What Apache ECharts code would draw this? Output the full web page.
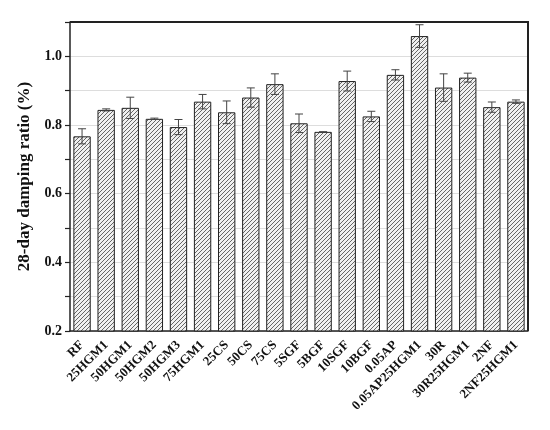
<!DOCTYPE html>
<html>
<head>
<meta charset="utf-8">
<script src="https://cdn.jsdelivr.net/npm/echarts@6/dist/echarts.min.js"></script>
<style>html,body{margin:0;padding:0;background:#fff}#c{width:550px;height:430px}</style>
</head>
<body>
<div id="c"></div>
<script>
const categories = ['RF','25HGM1','50HGM1','50HGM2','50HGM3','75HGM1','25CS','50CS','75CS','5SGF','5BGF','10SGF','10BGF','0.05AP','0.05AP25HGM1','30R','30R25HGM1','2NF','2NF25HGM1'];
const values = [0.767,0.844,0.850,0.818,0.794,0.868,0.837,0.880,0.919,0.805,0.780,0.928,0.825,0.946,1.059,0.909,0.938,0.852,0.868];
const errors = [0.022,0.003,0.031,0.002,0.022,0.021,0.033,0.028,0.030,0.027,0,0.029,0.015,0.015,0.033,0.040,0.013,0.015,0.005];
const yTicks = [0.2,0.4,0.6,0.8,1.0];

const FONT = '"Liberation Serif","Times New Roman",serif';

// hatch pattern
const pc = document.createElement('canvas');
pc.width = 4; pc.height = 4;
const g = pc.getContext('2d');
g.fillStyle = '#f0f0f0';
g.fillRect(0,0,4,4);
g.strokeStyle = '#666';
g.lineWidth = 1;
g.beginPath();
g.moveTo(-1,5); g.lineTo(5,-1);
g.moveTo(-1,1); g.lineTo(1,-1);
g.moveTo(3,5); g.lineTo(5,3);
g.stroke();

const GL = 70, GR = 22, GT = 22, GB = 99, W = 550, H = 430;

const chart = echarts.init(document.getElementById('c'));
const errData = values.map((v,i)=>[i, v - errors[i], v + errors[i]]);

chart.setOption({
  animation:false,
  grid:{left:GL,right:GR,top:GT,bottom:GB},
  graphic:[{
    type:'polyline',z:100,silent:true,
    shape:{points:[[GL,GT],[W-GR,GT],[W-GR,H-GB]]},
    style:{fill:null,stroke:'#222',lineWidth:2}
  }],
  xAxis:[{
    type:'category',data:categories,
    axisLine:{lineStyle:{color:'#222',width:1.5}},
    axisTick:{alignWithLabel:true,length:5,lineStyle:{color:'#222',width:1.2}},
    axisLabel:{rotate:45,margin:12,fontFamily:FONT,fontWeight:'bold',fontSize:13,color:'#111',interval:0}
  },{
    type:'category',data:categories,position:'bottom',
    axisLine:{show:false},
    axisTick:{length:3,lineStyle:{color:'#222',width:1}},
    axisLabel:{show:false}
  }],
  yAxis:{
    type:'value',min:0.2,max:1.1,interval:0.1,
    name:'28-day damping ratio (%)',nameLocation:'middle',nameGap:31,
    nameTextStyle:{fontFamily:FONT,fontWeight:'bold',fontSize:17,color:'#111'},
    axisLine:{show:true,lineStyle:{color:'#222',width:1.5}},
    axisTick:{show:true,length:5,lineStyle:{color:'#222',width:1.2}},
    splitLine:{show:true,lineStyle:{color:'#ddd',width:1}},
    axisLabel:{margin:8,fontFamily:FONT,fontWeight:'bold',fontSize:14,color:'#111',
      formatter:function(v){
        const r = Math.round(v*10)/10;
        return yTicks.some(t=>Math.abs(t-r)<1e-6) ? r.toFixed(1) : '';
      }}
  },
  series:[{
    type:'bar',data:values,barWidth:'72%',
    itemStyle:{color:{image:pc,repeat:'repeat'},borderColor:'#222',borderWidth:1}
  },{
    type:'custom',data:errData,z:10,
    renderItem:function(params,api){
      const x = api.value(0);
      const lo = api.coord([x, api.value(1)]);
      const hi = api.coord([x, api.value(2)]);
      const hw = 4;
      const st = {stroke:'#444',lineWidth:1};
      return {type:'group',children:[
        {type:'line',shape:{x1:lo[0],y1:lo[1],x2:hi[0],y2:hi[1]},style:st},
        {type:'line',shape:{x1:lo[0]-hw,y1:lo[1],x2:lo[0]+hw,y2:lo[1]},style:st},
        {type:'line',shape:{x1:hi[0]-hw,y1:hi[1],x2:hi[0]+hw,y2:hi[1]},style:st}
      ]};
    }
  }]
});
</script>
</body>
</html>
